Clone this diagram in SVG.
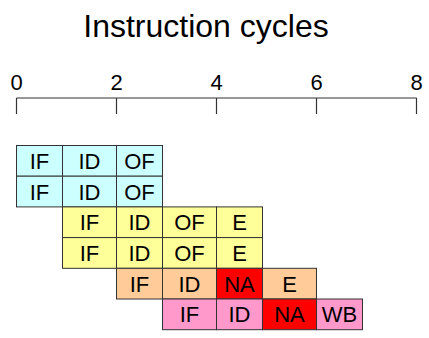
<svg xmlns="http://www.w3.org/2000/svg" width="429" height="338" viewBox="0 0 429 338">
<style>
text{font-family:"Liberation Sans",Arial,sans-serif;fill:#000;text-anchor:middle}
.t{font-size:32px}
.ax{font-size:22px}
.c{font-size:22px}
.cell{stroke:#333;stroke-width:1}
.b{fill:#CCFFFF}.y{fill:#FFFF99}.o{fill:#FFCC99}.p{fill:#FF99CC}.r{fill:#FF0000}
.axis{stroke:#333;stroke-width:1.2;fill:none}
</style>
<rect width="429" height="338" fill="#fff"/>
<text class="t" x="206" y="37">Instruction cycles</text>
<g id="axis">
<path class="axis" d="M16.5,98H416.7M16.5,98V114M116.5,98V114M216.5,98V114M316.5,98V114M416.5,98V114"/>
<text class="ax" x="16.5" y="90">0</text>
<text class="ax" x="116.5" y="90">2</text>
<text class="ax" x="216.5" y="90">4</text>
<text class="ax" x="316.5" y="90">6</text>
<text class="ax" x="416.5" y="90">8</text>
</g>
<g id="row1">
<rect class="cell b" x="16.5" y="145.5" width="46" height="30.7"/>
<rect class="cell b" x="62.5" y="145.5" width="54" height="30.7"/>
<rect class="cell b" x="116.5" y="145.5" width="46" height="30.7"/>
<text class="c" x="39.5" y="168.8">IF</text>
<text class="c" x="89.5" y="168.8">ID</text>
<text class="c" x="139.5" y="168.8">OF</text>
</g>
<g id="row2">
<rect class="cell b" x="16.5" y="176.2" width="46" height="30.7"/>
<rect class="cell b" x="62.5" y="176.2" width="54" height="30.7"/>
<rect class="cell b" x="116.5" y="176.2" width="46" height="30.7"/>
<text class="c" x="39.5" y="199.5">IF</text>
<text class="c" x="89.5" y="199.5">ID</text>
<text class="c" x="139.5" y="199.5">OF</text>
</g>
<g id="row3">
<rect class="cell y" x="62.5" y="206.9" width="54" height="30.7"/>
<rect class="cell y" x="116.5" y="206.9" width="46" height="30.7"/>
<rect class="cell y" x="162.5" y="206.9" width="54" height="30.7"/>
<rect class="cell y" x="216.5" y="206.9" width="46" height="30.7"/>
<text class="c" x="89.5" y="230.2">IF</text>
<text class="c" x="139.5" y="230.2">ID</text>
<text class="c" x="189.5" y="230.2">OF</text>
<text class="c" x="239.5" y="230.2">E</text>
</g>
<g id="row4">
<rect class="cell y" x="62.5" y="237.6" width="54" height="30.7"/>
<rect class="cell y" x="116.5" y="237.6" width="46" height="30.7"/>
<rect class="cell y" x="162.5" y="237.6" width="54" height="30.7"/>
<rect class="cell y" x="216.5" y="237.6" width="46" height="30.7"/>
<text class="c" x="89.5" y="260.9">IF</text>
<text class="c" x="139.5" y="260.9">ID</text>
<text class="c" x="189.5" y="260.9">OF</text>
<text class="c" x="239.5" y="260.9">E</text>
</g>
<g id="row5">
<rect class="cell o" x="116.5" y="268.3" width="46" height="30.7"/>
<rect class="cell o" x="162.5" y="268.3" width="54" height="30.7"/>
<rect class="cell r" x="216.5" y="268.3" width="46" height="30.7"/>
<rect class="cell o" x="262.5" y="268.3" width="54" height="30.7"/>
<text class="c" x="139.5" y="291.6">IF</text>
<text class="c" x="189.5" y="291.6">ID</text>
<text class="c" x="239.5" y="291.6">NA</text>
<text class="c" x="289.5" y="291.6">E</text>
</g>
<g id="row6">
<rect class="cell p" x="162.5" y="299" width="54" height="30.7"/>
<rect class="cell p" x="216.5" y="299" width="46" height="30.7"/>
<rect class="cell r" x="262.5" y="299" width="54" height="30.7"/>
<rect class="cell p" x="316.5" y="299" width="46" height="30.7"/>
<text class="c" x="189.5" y="322.3">IF</text>
<text class="c" x="239.5" y="322.3">ID</text>
<text class="c" x="289.5" y="322.3">NA</text>
<text class="c" x="339.5" y="322.3">WB</text>
</g>
</svg>
